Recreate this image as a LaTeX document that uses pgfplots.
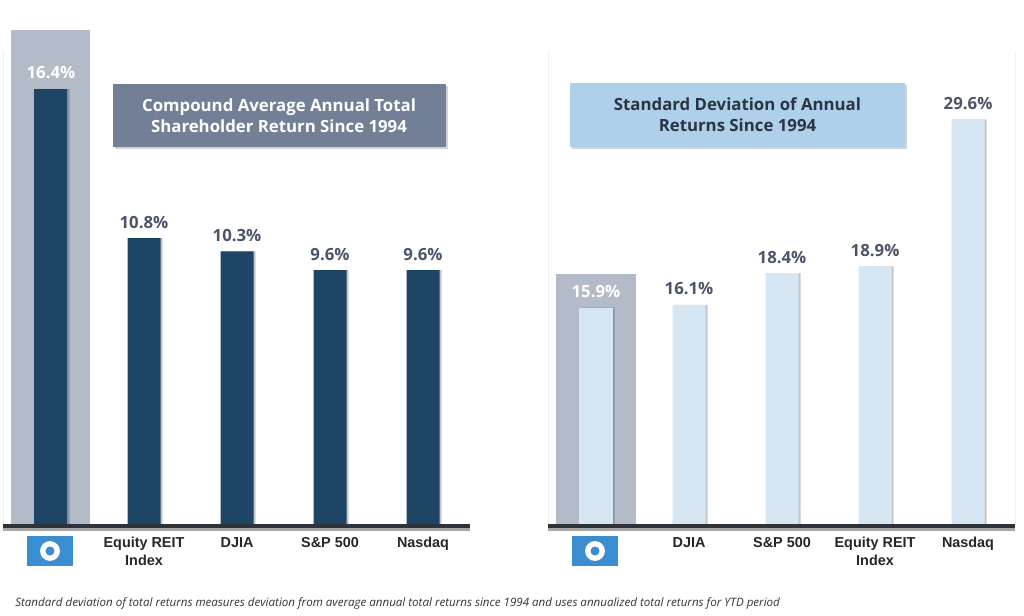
\documentclass[border=0pt]{standalone}
\usepackage{pgfplots}
\pgfplotsset{compat=1.18}
\usepackage{fontspec}
\setmainfont{Open Sans}
\newfontfamily\arialf{Liberation Sans}
\usetikzlibrary{shadows}
\definecolor{darkbar}{HTML}{1E4566}
\definecolor{lightbar}{HTML}{D6E6F3}
\definecolor{graybg}{HTML}{B3BAC8}
\definecolor{titleL}{HTML}{737F97}
\definecolor{titleR}{HTML}{AED0EA}
\definecolor{titleRtext}{HTML}{2B3445}
\definecolor{valcol}{HTML}{4B5468}
\definecolor{catcol}{HTML}{262626}
\definecolor{oblue}{HTML}{3A8DD0}
\definecolor{basecol}{HTML}{2E3239}
\definecolor{faint}{HTML}{F0F0F0}
\pgfplotsset{
 panel/.style={
  scale only axis, width=350.25pt, height=382.5pt,
  xmin=-0.516, xmax=4.505, ymin=0,
  axis line style={draw=none}, tick style={draw=none},
  ytick=\empty, xtick={0,1,2,3,4},
  xticklabel style={font=\arialf\bfseries\fontsize{10.8}{13.5}\selectfont, align=center, text=catcol, anchor=north, yshift=-5pt},
  clip=false, anchor=south west,
  /pgf/number format/assume math mode=true,
 },
 vlabel/.style={
  nodes near coords={\pgfmathprintnumber[fixed,fixed zerofill,precision=1]{\pgfplotspointmeta}\%},
  every node near coord/.append style={font=\bfseries\fontsize{12.6}{14}\selectfont, anchor=base, yshift=7.5pt, text=#1}
 },
 shadowbar/.style={ybar, bar width=24.75pt, bar shift=1.6pt, fill=black, opacity=0.22, draw=none, forget plot},
}
\begin{document}
\begin{tikzpicture}
\path[use as bounding box] (0,0) rectangle (768pt,462pt);
% faint panel borders
\draw[faint, line width=0.75pt] (2.25pt,67.5pt) -- (2.25pt,424pt);
\draw[faint, line width=0.75pt] (411pt,67.5pt) -- (411pt,424pt);
\draw[faint, line width=0.75pt] (761.25pt,67.5pt) -- (761.25pt,424pt);

% ---------- left panel ----------
\begin{axis}[panel, at={(2.25pt,67.5pt)}, ymax=19.13,
  xticklabels={{}, Equity REIT\\Index, DJIA, S\&P 500, Nasdaq}]
 \addplot[ybar, bar width=59.25pt, bar shift=0pt, fill=graybg, draw=none] coordinates {(0,18.6)};
 \addplot[shadowbar] coordinates {(0,16.4) (1,10.8) (2,10.3) (3,9.6) (4,9.6)};
 \addplot[ybar, bar width=24.75pt, bar shift=0pt, fill=darkbar, draw=none, vlabel=white] coordinates {(0,16.4)};
 \addplot[ybar, bar width=24.75pt, bar shift=0pt, fill=darkbar, draw=none, vlabel=valcol] coordinates {(1,10.8) (2,10.3) (3,9.6) (4,9.6)};
 \draw[line width=2.2pt, black!35] ([yshift=-2.6pt]rel axis cs:0,0) -- ([yshift=-2.6pt]rel axis cs:1,0);
 \draw[line width=3pt, basecol] (rel axis cs:0,0) -- (rel axis cs:1,0);
\end{axis}

% ---------- right panel ----------
\begin{axis}[panel, at={(411pt,67.5pt)}, ymax=37.12,
  xticklabels={{}, DJIA, S\&P 500, Equity REIT\\Index, Nasdaq}]
 \addplot[ybar, bar width=59.25pt, bar shift=0pt, fill=graybg, draw=none] coordinates {(0,18.34)};
 \addplot[shadowbar] coordinates {(0,15.9) (1,16.1) (2,18.4) (3,18.9) (4,29.6)};
 \addplot[ybar, bar width=24.75pt, bar shift=0pt, fill=lightbar, draw=none, vlabel=white] coordinates {(0,15.9)};
 \addplot[ybar, bar width=24.75pt, bar shift=0pt, fill=lightbar, draw=none, vlabel=valcol] coordinates {(1,16.1) (2,18.4) (3,18.9) (4,29.6)};
 \draw[line width=2.2pt, black!35] ([yshift=-2.6pt]rel axis cs:0,0) -- ([yshift=-2.6pt]rel axis cs:1,0);
 \draw[line width=3pt, basecol] (rel axis cs:0,0) -- (rel axis cs:1,0);
\end{axis}

% title boxes
\node[fill=titleL, minimum width=249.75pt, minimum height=47.25pt, inner sep=0pt,
  drop shadow={opacity=0.35, shadow xshift=1.5pt, shadow yshift=-1.5pt},
  text=white, align=center, font=\bfseries\fontsize{12.6}{15.75}\selectfont]
  at (209.25pt,375pt) {Compound Average Annual Total\\Shareholder Return Since 1994};
\node[fill=titleR, minimum width=251.25pt, minimum height=48pt, inner sep=0pt,
  drop shadow={opacity=0.35, shadow xshift=1.5pt, shadow yshift=-1.5pt},
  text=titleRtext, align=center, font=\bfseries\fontsize{12.6}{15.75}\selectfont]
  at (553.1pt,375.75pt) {Standard Deviation of Annual\\Returns Since 1994};

% logos
\foreach \cx in {37.5pt,446.25pt}{
  \fill[oblue] ([xshift=-17.25pt,yshift=-11.25pt]\cx,48.75pt) rectangle ([xshift=17.25pt,yshift=11.25pt]\cx,48.75pt);
  \draw[white, line width=4pt] (\cx,48.75pt) circle (5.4pt);
}

% footnote
\node[anchor=base west, inner sep=0pt, text=black!80, font=\itshape\fontsize{8.68}{11}\selectfont]
  at (11.25pt,6.75pt) {Standard deviation of total returns measures deviation from average annual total returns since 1994 and uses annualized total returns for YTD period};
\end{tikzpicture}
\end{document}
